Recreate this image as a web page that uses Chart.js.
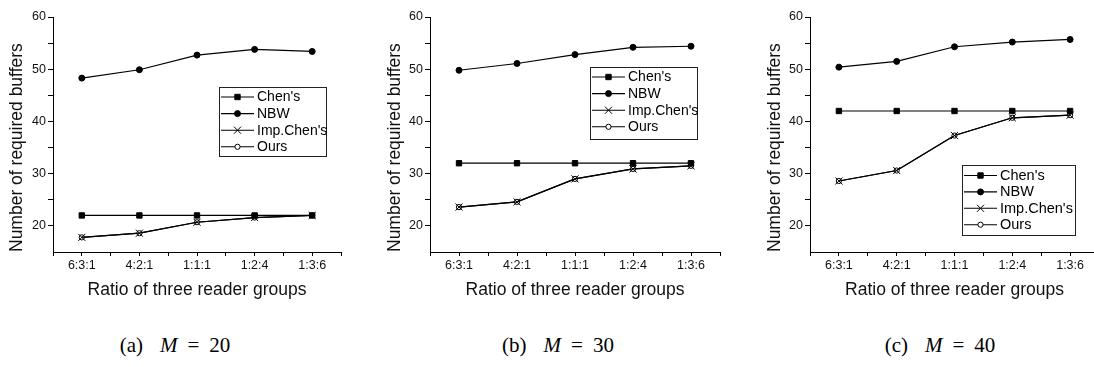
<!DOCTYPE html>
<html>
<head>
<meta charset="utf-8">
<script src="https://cdn.jsdelivr.net/npm/chart.js@4.4.0/dist/chart.umd.min.js"></script>
<style>
html,body{margin:0;padding:0;background:#fff;width:1094px;height:367px;overflow:hidden;}
#wrap{position:relative;width:1094px;height:367px;overflow:hidden;background:#fff;}
#wrap canvas{position:absolute;top:0;}
.cap{position:absolute;top:332px;font-family:"Liberation Serif","DejaVu Serif",serif;font-size:21px;line-height:26px;color:#000;white-space:nowrap;transform:translateX(-50%);}
.cap i{font-style:italic;margin-left:17px;}
.cap .eq{margin:0 10px;}
</style>
</head>
<body>
<div id="wrap">
  <canvas id="chartA" width="365" height="310" style="left:0px;width:365px;height:310px;"></canvas>
  <canvas id="chartB" width="360" height="310" style="left:370px;width:360px;height:310px;"></canvas>
  <canvas id="chartC" width="372" height="310" style="left:735px;width:372px;height:310px;"></canvas>
  <div class="cap" style="left:175px;">(a)<i>M</i><span class="eq">=</span>20</div>
  <div class="cap" style="left:558px;">(b)<i>M</i><span class="eq">=</span>30</div>
  <div class="cap" style="left:940px;">(c)<i>M</i><span class="eq">=</span>40</div>
</div>
<script>
// ---------- data ----------
const categories = ['6:3:1', '4:2:1', '1:1:1', '1:2:4', '1:3:6'];
const seriesNames = ["Chen's", 'NBW', "Imp.Chen's", 'Ours'];
const xAxisTitle = 'Ratio of three reader groups';
const yAxisTitle = 'Number of required buffers';
const yTickValues = [20, 25, 30, 35, 40, 45, 50, 55, 60];
const xTickValues = [-0.5, 0, 0.5, 1, 1.5, 2, 2.5, 3, 3.5, 4, 4.5];

// (a) M = 20
const chenM20    = [22, 22, 22, 22, 22];
const nbwM20     = [48.3, 49.9, 52.7, 53.8, 53.4];
const impChenM20 = [17.8, 18.6, 20.7, 21.6, 22.0];
const oursM20    = [17.8, 18.6, 20.7, 21.6, 22.0];

// (b) M = 30
const chenM30    = [32, 32, 32, 32, 32];
const nbwM30     = [49.8, 51.1, 52.8, 54.2, 54.4];
const impChenM30 = [23.6, 24.6, 29.0, 30.9, 31.5];
const oursM30    = [23.6, 24.6, 29.0, 30.9, 31.5];

// (c) M = 40
const chenM40    = [42, 42, 42, 42, 42];
const nbwM40     = [50.4, 51.5, 54.3, 55.2, 55.7];
const impChenM40 = [28.6, 30.6, 37.3, 40.7, 41.2];
const oursM40    = [28.6, 30.6, 37.3, 40.7, 41.2];

// ---------- styling ----------
const FONT = '"Liberation Sans", Arial, sans-serif';
const seriesStyles = [
  { pointStyle: 'rect',     radius: 3.8, fill: '#000' },
  { pointStyle: 'circle',   radius: 3.0, fill: '#000' },
  { pointStyle: 'crossRot', radius: 5.0, fill: '#000' },
  { pointStyle: 'circle',   radius: 2.6, fill: '#fff' }
];

function toXY(arr) { return arr.map((v, i) => ({ x: i, y: v })); }

function drawMarker(ctx, style, x, y) {
  ctx.save();
  ctx.lineWidth = 1;
  ctx.strokeStyle = '#000';
  ctx.fillStyle = style.fill;
  if (Chart.helpers && Chart.helpers.drawPoint) {
    Chart.helpers.drawPoint(ctx, { pointStyle: style.pointStyle, radius: style.radius, rotation: 0, borderWidth: 1 }, x, y);
  } else {
    ctx.beginPath();
    if (style.pointStyle === 'rect') {
      const s = style.radius * Math.SQRT1_2;
      ctx.rect(x - s, y - s, 2 * s, 2 * s); ctx.fill(); ctx.stroke();
    } else if (style.pointStyle === 'circle') {
      ctx.arc(x, y, style.radius, 0, Math.PI * 2); ctx.fill(); ctx.stroke();
    } else {
      const s = style.radius * Math.SQRT1_2;
      ctx.moveTo(x - s, y - s); ctx.lineTo(x + s, y + s);
      ctx.moveTo(x + s, y - s); ctx.lineTo(x - s, y + s); ctx.stroke();
    }
  }
  ctx.restore();
}

const boxLegend = {
  id: 'boxLegend',
  afterDraw(chart, args, opts) {
    if (!opts || !opts.box) return;
    const ctx = chart.ctx;
    const b = opts.box;
    ctx.save();
    ctx.fillStyle = '#fff';
    ctx.fillRect(b.x, b.y, b.w, b.h);
    ctx.strokeStyle = '#222';
    ctx.lineWidth = 1;
    ctx.strokeRect(b.x + 0.5, b.y + 0.5, b.w, b.h);
    ctx.font = b.fontSize + 'px ' + FONT;
    ctx.textBaseline = 'middle';
    ctx.textAlign = 'left';
    chart.data.datasets.forEach((ds, i) => {
      const yy = b.y + b.first + i * b.row;
      ctx.strokeStyle = '#000';
      ctx.lineWidth = 1.1;
      ctx.beginPath();
      ctx.moveTo(b.x + 2, yy);
      ctx.lineTo(b.x + 35, yy);
      ctx.stroke();
      drawMarker(ctx, seriesStyles[i], b.x + 18.5, yy);
      ctx.fillStyle = '#000';
      ctx.fillText(ds.label, b.x + 38, yy + 0.5);
    });
    ctx.restore();
  }
};

function makeChart(id, values, L) {
  const datasets = values.map((arr, i) => ({
    label: seriesNames[i],
    data: toXY(arr),
    borderColor: '#000',
    backgroundColor: seriesStyles[i].fill,
    borderWidth: 1.2,
    pointStyle: seriesStyles[i].pointStyle,
    pointRadius: seriesStyles[i].radius,
    pointBorderWidth: 1,
    pointBorderColor: '#000',
    pointBackgroundColor: seriesStyles[i].fill,
    tension: 0
  }));
  return new Chart(document.getElementById(id), {
    type: 'line',
    data: { datasets },
    plugins: [boxLegend],
    options: {
      responsive: false,
      animation: false,
      devicePixelRatio: 1,
      layout: { padding: { left: 0, top: 17, right: L.padRight, bottom: 0 } },
      plugins: {
        legend: { display: false },
        tooltip: { enabled: false },
        boxLegend: { box: L.legend }
      },
      scales: {
        x: {
          type: 'linear',
          min: -0.5,
          max: 4.5,
          afterBuildTicks: s => { s.ticks = xTickValues.map(v => ({ value: v })); },
          afterFit: s => { s.height = 58; },
          ticks: {
            callback: v => (Number.isInteger(v) ? categories[v] : ''),
            font: { family: FONT, size: 12.5 },
            color: '#111',
            padding: 2,
            maxRotation: 0,
            autoSkip: false
          },
          grid: { drawOnChartArea: false, drawTicks: true, tickLength: 4, color: '#000', tickColor: '#000', tickWidth: 1 },
          border: { display: true, color: '#000', width: 1 },
          title: {
            display: true, text: xAxisTitle, color: '#111',
            font: { family: FONT, size: 17.5 },
            padding: { top: 0, bottom: 9.5 }
          }
        },
        y: {
          type: 'linear',
          min: 15,
          max: 60,
          afterBuildTicks: s => { s.ticks = yTickValues.map(v => ({ value: v })); },
          afterFit: s => { s.width = L.yAxisW; },
          ticks: {
            callback: v => (v % 10 === 0 ? String(v) : ''),
            font: { family: FONT, size: 12.5 },
            color: '#111',
            padding: 2,
            autoSkip: false
          },
          grid: { drawOnChartArea: false, drawTicks: true, tickLength: 5, color: '#000', tickColor: '#000', tickWidth: 1 },
          border: { display: true, color: '#000', width: 1 },
          title: {
            display: true, text: yAxisTitle, color: '#111', align: 'start',
            font: { family: FONT, size: 17.5 },
            padding: { top: L.yTitlePad, bottom: 0 }
          }
        }
      }
    }
  });
}

makeChart('chartA', [chenM20, nbwM20, impChenM20, oursM20], {
  padRight: 24, yAxisW: 53, yTitlePad: 6.5,
  legend: { x: 219, y: 87, w: 107, h: 69, fontSize: 14, first: 10, row: 16.6 }
});
makeChart('chartB', [chenM30, nbwM30, impChenM30, oursM30], {
  padRight: 10, yAxisW: 60, yTitlePad: 14.5,
  legend: { x: 220, y: 67, w: 107, h: 72, fontSize: 14, first: 10, row: 16.6 }
});
makeChart('chartC', [chenM40, nbwM40, impChenM40, oursM40], {
  padRight: 8, yAxisW: 75, yTitlePad: 29.5,
  legend: { x: 227, y: 165, w: 113, h: 70, fontSize: 14.5, first: 10.5, row: 16.4 }
});
</script>
</body>
</html>
